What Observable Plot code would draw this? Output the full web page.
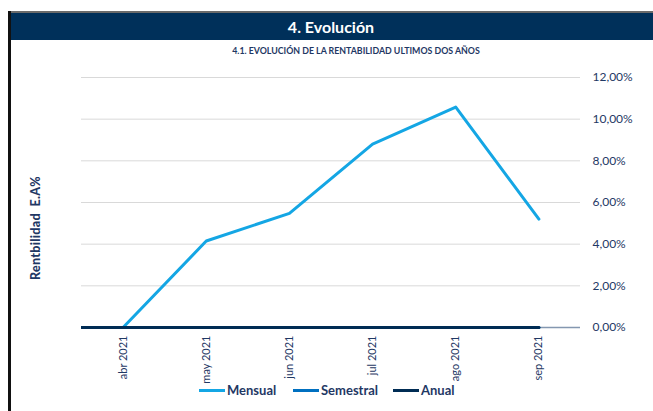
<!DOCTYPE html>
<html><head><meta charset="utf-8">
<script src="https://cdn.jsdelivr.net/npm/d3@7"></script>
<script src="https://cdn.jsdelivr.net/npm/@observablehq/plot@0.6"></script>
<style>
body{margin:0;background:#fff;font-family:Lato,"Open Sans",sans-serif}
#wrap{position:relative;width:653px;height:411px;overflow:hidden;background:#fff}
#chart{position:absolute;left:0;top:0}
#topline{position:absolute;left:9px;top:11px;width:644px;height:2px;background:#6b6b6b}
#header{position:absolute;left:9px;top:13px;width:644px;height:27px;background:#00305a;color:#fff;font-weight:bold;font-size:16px;line-height:27px;text-align:center}
#leftborder{position:absolute;left:8px;top:11px;width:3px;height:400px;background:#111}
#subtitle{position:absolute;left:156px;width:400px;top:45px;text-align:center;font-size:8.8px;font-weight:bold;color:#1f3864}
#ylabel{position:absolute;left:35px;top:228px;transform:translate(-50%,-50%) rotate(-90deg);white-space:nowrap;font-size:12.5px;font-weight:900;color:#1f3864;letter-spacing:0.3px}
#legend{position:absolute;top:382px;left:0;width:653px;height:18px}
.li{position:absolute;top:0;display:flex;align-items:center;font-size:13px;font-weight:bold;color:#1f3864}
.sw{width:26px;height:3px;margin-right:2px}
</style></head><body>
<div id="wrap">
<div id="chart"></div>
<div id="topline"></div>
<div id="header">4. Evolución</div>
<div id="leftborder"></div>
<div id="subtitle">4.1. EVOLUCIÓN DE LA RENTABILIDAD ULTIMOS DOS AÑOS</div>
<div id="ylabel">Rentbilidad&nbsp; E.A%</div>
<div id="legend"></div>
</div>
<script>
const months = ["abr 2021", "may 2021", "jun 2021", "jul 2021", "ago 2021", "sep 2021"];
const mensual = [0, 4.15, 5.48, 8.8, 10.58, 5.2];
const semestral = [0, 0, 0, 0, 0, 0];
const anual = [0, 0, 0, 0, 0, 0];
const yTicks = [0, 2, 4, 6, 8, 10, 12];
const seriesNames = ["Mensual", "Semestral", "Anual"];
const seriesColors = ["#14a6e4", "#0070c0", "#002c54"];
const legendX = [199, 293, 393];

const seriesValues = [mensual, semestral, anual];
const rows = [];
seriesNames.forEach((s, k) => seriesValues[k].forEach((v, i) => rows.push({series: s, i, v})));

const navy = "#1f3864";
const plot = Plot.plot({
  width: 653,
  height: 411,
  marginTop: 77,
  marginBottom: 84,
  marginLeft: 81,
  marginRight: 73,
  style: {background: "transparent", fontFamily: "Lato, 'Open Sans', sans-serif"},
  x: {type: "linear", domain: [-0.5, months.length - 0.5]},
  y: {domain: [0, 12]},
  marks: [
    Plot.ruleY(yTicks, {stroke: "#d9d9d9", strokeWidth: 1}),
    Plot.ruleY([0], {stroke: "#8497b0", strokeWidth: 1.5}),
    ...seriesNames.map((s, k) => Plot.line(rows.filter(d => d.series === s), {
      x: "i", y: "v", stroke: seriesColors[k], strokeWidth: 3, strokeLinejoin: "round"
    })),
    Plot.ruleY([0], {x1: -0.5, x2: months.length - 1, stroke: seriesColors[2], strokeWidth: 3}),
    Plot.axisY(yTicks, {anchor: "right", tickSize: 0, tickPadding: 12, fontSize: 12, color: navy,
      tickFormat: d => d.toFixed(2).replace(".", ",") + "%", label: null, textAnchor: "start"}),
    Plot.axisX(months.map((m, i) => i), {anchor: "bottom", tickSize: 0, tickPadding: 8, tickRotate: -90,
      fontSize: 11, color: navy, tickFormat: i => months[i], label: null})
  ]
});
document.getElementById("chart").appendChild(plot);

const leg = document.getElementById("legend");
seriesNames.forEach((s, k) => {
  const el = document.createElement("div");
  el.className = "li";
  el.style.left = legendX[k] + "px";
  el.innerHTML = `<span class="sw" style="background:${seriesColors[k]}"></span><span>${s}</span>`;
  leg.appendChild(el);
});
</script>
</body></html>
